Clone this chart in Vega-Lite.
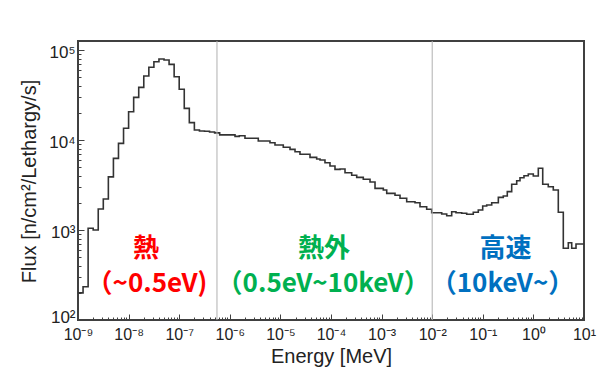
{
  "$schema": "https://vega.github.io/schema/vega-lite/v6.json",
  "width": 506,
  "height": 279,
  "autosize": "none",
  "padding": {"left": 78, "top": 41, "right": 13, "bottom": 48},
  "background": "white",
  "config": {
    "view": {"stroke": "#404040", "strokeWidth": 2},
    "font": "Liberation Sans"
  },
  "datasets": {
    "flux": [
      {"E": 1e-9, "flux": 200},
      {"E": 1.259e-9, "flux": 234},
      {"E": 1.585e-9, "flux": 1045},
      {"E": 1.995e-9, "flux": 1000},
      {"E": 2.512e-9, "flux": 1710},
      {"E": 3.162e-9, "flux": 2210},
      {"E": 3.981e-9, "flux": 3890},
      {"E": 5.012e-9, "flux": 6250},
      {"E": 6.310e-9, "flux": 9180},
      {"E": 7.943e-9, "flux": 13500},
      {"E": 1e-8, "flux": 20600},
      {"E": 1.259e-8, "flux": 29800},
      {"E": 1.585e-8, "flux": 38500},
      {"E": 1.995e-8, "flux": 51400},
      {"E": 2.512e-8, "flux": 64300},
      {"E": 3.162e-8, "flux": 74100},
      {"E": 3.981e-8, "flux": 79400},
      {"E": 5.012e-8, "flux": 77400},
      {"E": 6.310e-8, "flux": 69300},
      {"E": 7.943e-8, "flux": 50400},
      {"E": 1e-7, "flux": 36600},
      {"E": 1.259e-7, "flux": 22500},
      {"E": 1.585e-7, "flux": 15600},
      {"E": 1.995e-7, "flux": 12900},
      {"E": 2.512e-7, "flux": 12600},
      {"E": 3.162e-7, "flux": 12500},
      {"E": 3.981e-7, "flux": 12300},
      {"E": 5.012e-7, "flux": 12000},
      {"E": 6.310e-7, "flux": 11400},
      {"E": 1.268e-6, "flux": 10990},
      {"E": 1.542e-6, "flux": 11170},
      {"E": 1.995e-6, "flux": 10450},
      {"E": 3.656e-6, "flux": 9750},
      {"E": 6.223e-6, "flux": 9330},
      {"E": 7.816e-6, "flux": 8800},
      {"E": 1.140e-5, "flux": 8300},
      {"E": 1.549e-5, "flux": 7880},
      {"E": 1.945e-5, "flux": 7410},
      {"E": 2.438e-5, "flux": 6940},
      {"E": 3.846e-5, "flux": 6420},
      {"E": 5.212e-5, "flux": 6150},
      {"E": 6.067e-5, "flux": 5990},
      {"E": 7.603e-5, "flux": 5600},
      {"E": 9.550e-5, "flux": 5140},
      {"E": 1.199e-4, "flux": 4720},
      {"E": 1.507e-4, "flux": 4760},
      {"E": 1.892e-4, "flux": 4330},
      {"E": 2.564e-4, "flux": 4055},
      {"E": 3.221e-4, "flux": 3850},
      {"E": 4.345e-4, "flux": 3660},
      {"E": 5.902e-4, "flux": 3415},
      {"E": 7.413e-4, "flux": 2905},
      {"E": 1.081e-3, "flux": 2780},
      {"E": 1.262e-3, "flux": 2555},
      {"E": 1.841e-3, "flux": 2430},
      {"E": 2.312e-3, "flux": 2250},
      {"E": 3.133e-3, "flux": 2062},
      {"E": 4.571e-3, "flux": 2010},
      {"E": 5.741e-3, "flux": 1815},
      {"E": 7.780e-3, "flux": 1698},
      {"E": 9.772e-3, "flux": 1556},
      {"E": 1.542e-2, "flux": 1506},
      {"E": 1.936e-2, "flux": 1442},
      {"E": 2.427e-2, "flux": 1596},
      {"E": 2.951e-2, "flux": 1556},
      {"E": 3.828e-2, "flux": 1534},
      {"E": 4.808e-2, "flux": 1494},
      {"E": 6.486e-2, "flux": 1574},
      {"E": 8.147e-2, "flux": 1668},
      {"E": 9.954e-2, "flux": 1848},
      {"E": 0.1194, "flux": 1896},
      {"E": 0.1500, "flux": 2010},
      {"E": 0.2028, "flux": 2305},
      {"E": 0.2541, "flux": 2388},
      {"E": 0.3048, "flux": 2667},
      {"E": 0.3724, "flux": 3220},
      {"E": 0.4677, "flux": 3530},
      {"E": 0.5433, "flux": 3810},
      {"E": 0.6516, "flux": 4010},
      {"E": 0.7925, "flux": 4190},
      {"E": 0.9954, "flux": 3980},
      {"E": 1.250, "flux": 4850},
      {"E": 1.528, "flux": 3220},
      {"E": 1.968, "flux": 3030},
      {"E": 2.472, "flux": 2780},
      {"E": 3.105, "flux": 1574},
      {"E": 3.899, "flux": 627},
      {"E": 4.898, "flux": 723},
      {"E": 5.715, "flux": 627},
      {"E": 6.950, "flux": 699},
      {"E": 10, "flux": 699}
    ],
    "bounds": [{"E": 5.58e-7}, {"E": 0.01}],
    "labels": [
      {"label": "熱", "region": "thermal", "E": 2.21e-8, "flux": 615},
      {"label": "（~0.5eV)", "region": "thermal", "E": 2.31e-8, "flux": 251},
      {"label": "熱外", "region": "epithermal", "E": 7.28e-5, "flux": 615},
      {"label": "（0.5eV~10keV）", "region": "epithermal", "E": 7.0e-5, "flux": 251},
      {"label": "高速", "region": "fast", "E": 0.281, "flux": 615},
      {"label": "（10keV~）", "region": "fast", "E": 0.245, "flux": 251}
    ]
  },
  "layer": [
    {
      "data": {"name": "flux"},
      "mark": {"type": "line", "interpolate": "step-after", "color": "#333333", "strokeWidth": 1.6, "clip": true},
      "encoding": {
        "x": {
          "field": "E", "type": "quantitative",
          "scale": {"type": "log", "domain": [1e-9, 10], "nice": false},
          "axis": {
            "title": "Energy [MeV]",
            "values": [1e-9,2e-9,3e-9,4e-9,5e-9,6e-9,7e-9,8e-9,9e-9,1e-8,2e-8,3e-8,4e-8,5e-8,6e-8,7e-8,8e-8,9e-8,1e-7,2e-7,3e-7,4e-7,5e-7,6e-7,7e-7,8e-7,9e-7,1e-6,2e-6,3e-6,4e-6,5e-6,6e-6,7e-6,8e-6,9e-6,1e-5,2e-5,3e-5,4e-5,5e-5,6e-5,7e-5,8e-5,9e-5,1e-4,2e-4,3e-4,4e-4,5e-4,6e-4,7e-4,8e-4,9e-4,1e-3,2e-3,3e-3,4e-3,5e-3,6e-3,7e-3,8e-3,9e-3,1e-2,2e-2,3e-2,4e-2,5e-2,6e-2,7e-2,8e-2,9e-2,0.1,0.2,0.3,0.4,0.5,0.6,0.7,0.8,0.9,1,2,3,4,5,6,7,8,9,10],
            "labelExpr": "abs(log(datum.value)/LN10 - round(log(datum.value)/LN10)) < 0.01 ? '10' + replace(replace(replace(replace(replace(replace(replace(replace(replace(replace(replace(toString(round(log(datum.value)/LN10)),'-','⁻'),'0','⁰'),'1','¹'),'2','²'),'3','³'),'4','⁴'),'5','⁵'),'6','⁶'),'7','⁷'),'8','⁸'),'9','⁹') : ''",
            "tickSize": {"condition": {"test": "abs(log(datum.value)/LN10 - round(log(datum.value)/LN10)) < 0.01", "value": -6}, "value": -3},
            "tickColor": "#404040",
            "grid": false,
            "domain": false,
            "labelFontSize": 16,
            "labelColor": "#222",
            "labelPadding": 12,
            "labelFlush": false,
            "labelOverlap": false,
            "titleFontSize": 20,
            "titleFontWeight": "normal",
            "titleColor": "#222",
            "titleBaseline": "alphabetic",
            "titleY": 42
          }
        },
        "y": {
          "field": "flux", "type": "quantitative",
          "scale": {"type": "log", "domain": [100, 126000], "nice": false},
          "axis": {
            "title": "Flux [n/cm²/Lethargy/s]",
            "values": [100,200,300,400,500,600,700,800,900,1000,2000,3000,4000,5000,6000,7000,8000,9000,10000,20000,30000,40000,50000,60000,70000,80000,90000,100000],
            "labelExpr": "abs(log(datum.value)/LN10 - round(log(datum.value)/LN10)) < 0.01 ? '10' + replace(replace(replace(replace(replace(replace(replace(replace(replace(replace(replace(toString(round(log(datum.value)/LN10)),'-','⁻'),'0','⁰'),'1','¹'),'2','²'),'3','³'),'4','⁴'),'5','⁵'),'6','⁶'),'7','⁷'),'8','⁸'),'9','⁹') : ''",
            "tickSize": {"condition": {"test": "abs(log(datum.value)/LN10 - round(log(datum.value)/LN10)) < 0.01", "value": -6}, "value": -3},
            "tickColor": "#404040",
            "grid": false,
            "domain": false,
            "labelFontSize": 17,
            "labelColor": "#222",
            "labelPadding": 9,
            "labelOffset": {"condition": {"test": "datum.value < 150", "value": -3}, "value": 2},
            "labelOverlap": false,
            "labelFlush": false,
            "titleFontSize": 20,
            "titleFontWeight": "normal",
            "titleColor": "#222",
            "titleX": -39,
            "titleY": 140
          }
        }
      }
    },
    {
      "data": {"name": "bounds"},
      "mark": {"type": "rule", "color": "#b0b0b0", "strokeWidth": 1},
      "encoding": {
        "x": {"field": "E", "type": "quantitative", "scale": {"type": "log", "domain": [1e-9, 10], "nice": false}}
      }
    },
    {
      "data": {"name": "labels"},
      "mark": {"type": "text", "font": "Noto Sans CJK JP", "fontWeight": "bold", "fontSize": 26, "align": "center", "baseline": "middle"},
      "encoding": {
        "x": {"field": "E", "type": "quantitative", "scale": {"type": "log", "domain": [1e-9, 10], "nice": false}},
        "y": {"field": "flux", "type": "quantitative", "scale": {"type": "log", "domain": [100, 126000], "nice": false}},
        "text": {"field": "label"},
        "color": {"field": "region", "type": "nominal", "scale": {"domain": ["thermal", "epithermal", "fast"], "range": ["#ff0000", "#00b050", "#0070c0"]}, "legend": null}
      }
    }
  ]
}
